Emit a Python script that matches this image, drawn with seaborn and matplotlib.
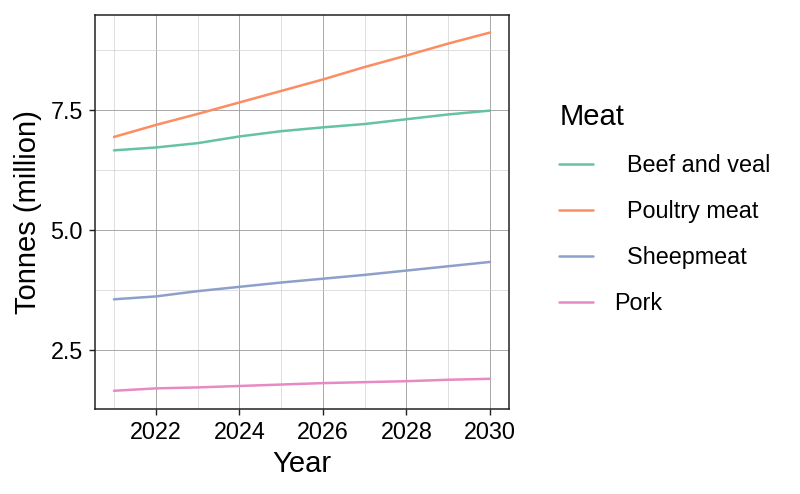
import numpy as np
import pandas as pd
import matplotlib
matplotlib.use("Agg")
import matplotlib.pyplot as plt
import seaborn as sns
from matplotlib.ticker import MultipleLocator

# data
years = [2021, 2022, 2023, 2024, 2025, 2026, 2027, 2028, 2029, 2030]
beef = [6.66, 6.72, 6.81, 6.95, 7.06, 7.14, 7.21, 7.31, 7.41, 7.49]
poultry = [6.94, 7.19, 7.42, 7.66, 7.90, 8.14, 8.40, 8.64, 8.89, 9.12]
sheep = [3.55, 3.61, 3.72, 3.81, 3.90, 3.98, 4.06, 4.15, 4.24, 4.33]
pork = [1.64, 1.69, 1.71, 1.74, 1.77, 1.80, 1.82, 1.84, 1.87, 1.89]
meat_labels = ["  Beef and veal", "  Poultry meat", "  Sheepmeat", "Pork"]

df = pd.DataFrame({
    "Year": years * 4,
    "Tonnes": beef + poultry + sheep + pork,
    "Meat": np.repeat(meat_labels, len(years)),
})

sns.set_style("white")
plt.rcParams['font.family'] = ['Liberation Sans', 'DejaVu Sans']
plt.rcParams['text.color'] = 'black'
plt.rcParams['axes.labelcolor'] = 'black'
plt.rcParams['xtick.color'] = 'black'
plt.rcParams['ytick.color'] = 'black'

fig = plt.figure(figsize=(8, 4.94), dpi=100)
ax = fig.add_axes([0.119, 0.1727, 0.517, 0.7973])

sns.lineplot(data=df, x="Year", y="Tonnes", hue="Meat", hue_order=meat_labels,
             palette="Set2", linewidth=1.8, ax=ax)

ax.set_xlim(2020.55, 2030.45)
ax.set_ylim(1.266, 9.49)
ax.xaxis.set_minor_locator(MultipleLocator(1))
ax.yaxis.set_minor_locator(MultipleLocator(1.25))
ax.set_xticks([2022, 2024, 2026, 2028, 2030])
ax.set_yticks([2.5, 5.0, 7.5])
ax.set_yticklabels(["2.5", "5.0", "7.5"])

ax.grid(which="major", color="#9a9a9a", linewidth=0.6)
ax.grid(which="minor", color="#d2d2d2", linewidth=0.5)
ax.set_axisbelow(True)
for s in ax.spines.values():
    s.set_color("#222222")
    s.set_linewidth(1.1)

ax.tick_params(which="major", direction="out", length=4, width=1, color="#222222",
               labelsize=16.8, pad=5, bottom=True, left=True)
ax.tick_params(which="minor", length=0)

ax.set_xlabel("Year", fontsize=21, labelpad=4)
ax.set_ylabel("Tonnes (million)", fontsize=21, labelpad=6)

handles, labels = ax.get_legend_handles_labels()
ax.get_legend().remove()
fig.legend(handles, labels, title="Meat", loc="upper left",
           bbox_to_anchor=(0.673, 0.833), frameon=False,
           fontsize=16.8, title_fontsize=21, handlelength=1.45,
           handletextpad=0.9, labelspacing=0.98, alignment="left")

fig.savefig("out.png", dpi=100)
